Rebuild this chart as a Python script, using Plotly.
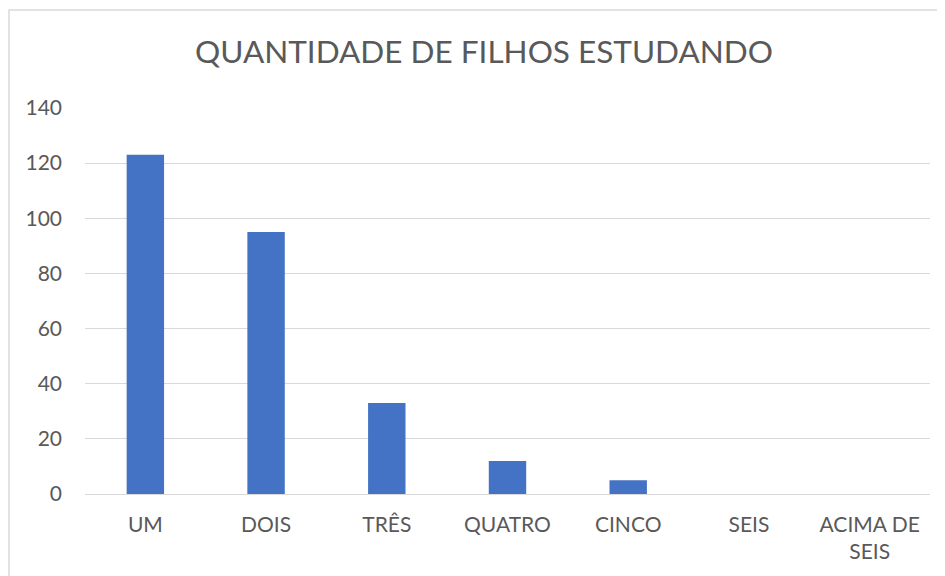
import plotly.graph_objects as go

categories = ["UM", "DOIS", "TRÊS", "QUATRO", "CINCO", "SEIS", "ACIMA DE<br>SEIS"]
values = [123, 95, 33, 12, 5, 0, 0]
y_ticks = [0, 20, 40, 60, 80, 100, 120, 140]

grey = "#595959"
font = "Lato, Open Sans, sans-serif"


def main():
    fig = go.Figure()
    fig.add_trace(
        go.Bar(
            x=categories,
            y=values,
            marker=dict(color="#4472c4", line=dict(width=0)),
            width=0.31,
        )
    )

    # page body has an 8px margin, so the figure is sized 8px smaller
    fig.update_layout(
        width=937,
        height=568,
        margin=dict(l=77, r=15, t=100, b=82),
        paper_bgcolor="white",
        plot_bgcolor="white",
        showlegend=False,
        font=dict(family=font, size=21, color=grey),
        title=dict(
            text="QUANTIDADE DE FILHOS ESTUDANDO",
            x=0.508,
            xanchor="center",
            y=0.922,
            yanchor="middle",
            font=dict(family=font, size=31.5, color=grey),
        ),
    )

    fig.update_xaxes(
        showgrid=False,
        showline=False,
        ticks="",
        ticklabelstandoff=16,
        tickfont=dict(size=21, color=grey),
    )
    fig.update_yaxes(
        range=[0, 140],
        tickvals=y_ticks,
        showgrid=True,
        gridcolor="#d9d9d9",
        gridwidth=1,
        zeroline=True,
        zerolinecolor="#d9d9d9",
        zerolinewidth=1,
        showline=False,
        ticks="",
        ticklabelstandoff=22,
        tickfont=dict(size=21, color=grey),
    )

    # chart area border
    fig.add_shape(
        type="rect",
        xref="paper",
        yref="paper",
        x0=-0.0899,
        x1=1.0166,
        y0=-0.35,
        y1=1.2539,
        line=dict(color="#d9d9d9", width=1.5),
        fillcolor="rgba(0,0,0,0)",
        layer="below",
    )

    fig.write_html("out.html")


if __name__ == "__main__":
    main()
